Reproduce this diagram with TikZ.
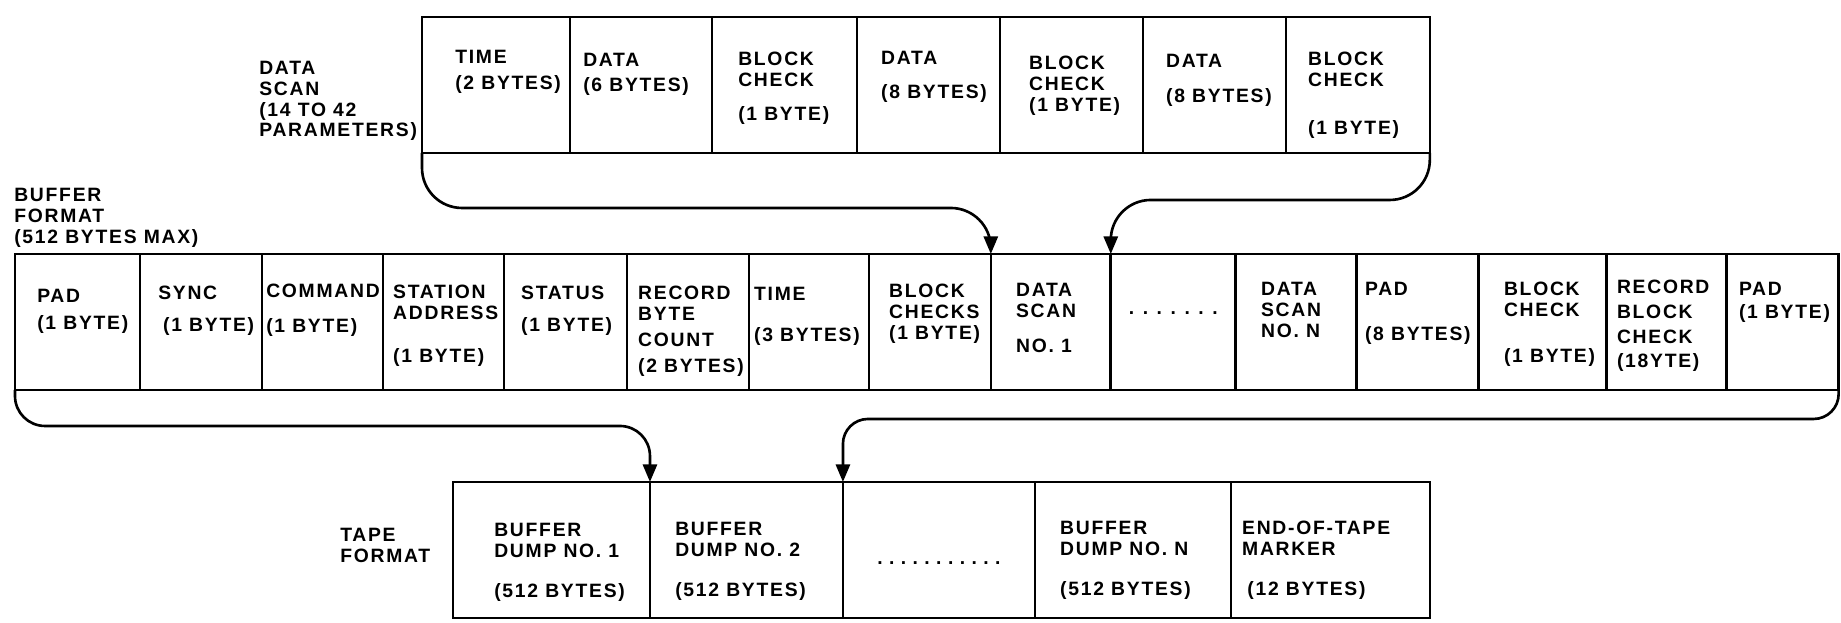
\documentclass[tikz,border=0pt]{standalone}
\usepackage{fontspec}
\setmainfont{Liberation Sans}[LetterSpace=9]
\usetikzlibrary{positioning,arrows.meta}

\begin{document}
\begin{tikzpicture}[x=0.02cm,y=-0.02cm,line width=1.5pt,
    cell/.style={draw,rectangle,inner sep=0pt,outer sep=0pt,minimum height=2.72cm},
    txt/.style={align=left,inner sep=0pt,font=\bfseries\fontsize{11}{11.8}\selectfont},
    link/.style={-{Triangle[length=10pt,width=8pt]},rounded corners=0.8cm}]
  \useasboundingbox (0,0) rectangle (1841,622);

  % data scan
  \node[cell,anchor=north west,minimum width=2.96cm] (d1) at (422,17) {};
  \node[cell,right=0pt of d1,minimum width=2.84cm] (d2) {};
  \node[cell,right=0pt of d2,minimum width=2.90cm] (d3) {};
  \node[cell,right=0pt of d3,minimum width=2.86cm] (d4) {};
  \node[cell,right=0pt of d4,minimum width=2.86cm] (d5) {};
  \node[cell,right=0pt of d5,minimum width=2.86cm] (d6) {};
  \node[cell,right=0pt of d6,minimum width=2.88cm] (d7) {};
  \node[txt,anchor=north west] (ds) at (258,60) {DATA\\SCAN\\(14 TO 42\\PARAMETERS)};
  \node[txt,below right=0.64cm and 0.64cm of d1.north west] (ld1) {TIME\\[2.9pt](2 BYTES)};
  \node[txt,below right=0.70cm and 0.24cm of d2.north west] (ld2) {DATA\\[2.4pt](6 BYTES)};
  \node[txt,below right=0.68cm and 0.50cm of d3.north west] (ld3) {BLOCK\\CHECK\\[7.5pt](1 BYTE)};
  \node[txt,below right=0.66cm and 0.46cm of d4.north west] (ld4) {DATA\\[7.5pt](8 BYTES)};
  \node[txt,below right=0.76cm and 0.56cm of d5.north west] (ld5) {BLOCK\\CHECK\\(1 BYTE)};
  \node[txt,below right=0.72cm and 0.44cm of d6.north west] (ld6) {DATA\\[8pt](8 BYTES)};
  \node[txt,below right=0.68cm and 0.42cm of d7.north west] (ld7) {BLOCK\\CHECK\\[15.4pt](1 BYTE)};

  % buffer format
  \node[cell,anchor=north west,minimum width=2.50cm] (b1) at (15,254) {};
  \node[cell,right=0pt of b1,minimum width=2.44cm] (b2) {};
  \node[cell,right=0pt of b2,minimum width=2.42cm] (b3) {};
  \node[cell,right=0pt of b3,minimum width=2.42cm] (b4) {};
  \node[cell,right=0pt of b4,minimum width=2.46cm] (b5) {};
  \node[cell,right=0pt of b5,minimum width=2.44cm] (b6) {};
  \node[cell,right=0pt of b6,minimum width=2.40cm] (b7) {};
  \node[cell,right=0pt of b7,minimum width=2.44cm] (b8) {};
  \node[cell,right=0pt of b8,minimum width=2.40cm] (b9) {};
  \node[cell,right=0pt of b9,minimum width=2.50cm] (b10) {};
  \node[cell,right=0pt of b10,minimum width=2.42cm] (b11) {};
  \node[cell,right=0pt of b11,minimum width=2.44cm] (b12) {};
  \node[cell,right=0pt of b12,minimum width=2.56cm] (b13) {};
  \node[cell,right=0pt of b13,minimum width=2.40cm] (b14) {};
  \node[cell,right=0pt of b14,minimum width=2.24cm] (b15) {};
  \node[txt,anchor=north west] (bf) at (13,187) {BUFFER\\FORMAT\\(512 BYTES MAX)};
  \node[txt,below right=0.68cm and 0.42cm of b1.north west] (lb1) {PAD\\[3.5pt](1 BYTE)};
  \node[txt,below right=0.62cm and 0.34cm of b2.north west] (lb2) {SYNC\\[6pt]\hspace*{2.8pt}(1 BYTE)};
  \node[txt,below right=0.58cm and 0.06cm of b3.north west] (lb3) {COMMAND\\[8pt](1 BYTE)};
  \node[txt,below right=0.60cm and 0.18cm of b4.north west] (lb4) {STATION\\ADDRESS\\[12.6pt](1 BYTE)};
  \node[txt,below right=0.62cm and 0.32cm of b5.north west] (lb5) {STATUS\\[6.4pt](1 BYTE)};
  \node[txt,below right=0.62cm and 0.20cm of b6.north west] (lb6) {RECORD\\BYTE\\[2.9pt]COUNT\\[2.9pt](2 BYTES)};
  \node[txt,below right=0.64cm and 0.08cm of b7.north west] (lb7) {TIME\\[11.2pt](3 BYTES)};
  \node[txt,below right=0.58cm and 0.38cm of b8.north west] (lb8) {BLOCK\\CHECKS\\(1 BYTE)};
  \node[txt,below right=0.56cm and 0.48cm of b9.north west] (lb9) {DATA\\SCAN\\[8pt]NO. 1};
  \node[txt,yshift=0.18cm] (lb10) at (b10.center) {\spaceskip=3.5pt . . . . . . .};
  \node[txt,below right=0.54cm and 0.48cm of b11.north west] (lb11) {DATA\\SCAN\\NO. N};
  \node[txt,below right=0.54cm and 0.14cm of b12.north west] (lb12) {PAD\\[13.7pt](8 BYTES)};
  \node[txt,below right=0.54cm and 0.48cm of b13.north west] (lb13) {BLOCK\\CHECK\\[14.3pt](1 BYTE)};
  \node[txt,below right=0.50cm and 0.18cm of b14.north west] (lb14) {RECORD\\[2.4pt]BLOCK\\[2.4pt]CHECK\\[1.8pt](18YTE)};
  \node[txt,below right=0.54cm and 0.22cm of b15.north west] (lb15) {PAD\\[1.2pt](1 BYTE)};

  % tape format
  \node[cell,anchor=north west,minimum width=3.94cm] (t1) at (453,482) {};
  \node[cell,right=0pt of t1,minimum width=3.86cm] (t2) {};
  \node[cell,right=0pt of t2,minimum width=3.84cm] (t3) {};
  \node[cell,right=0pt of t3,minimum width=3.92cm] (t4) {};
  \node[cell,right=0pt of t4,minimum width=3.98cm] (t5) {};
  \node[txt,anchor=north west] (tf) at (339,527) {TAPE\\FORMAT};
  \node[txt,below right=0.80cm and 0.80cm of t1.north west] (lt1) {BUFFER\\DUMP NO. 1\\[10.8pt](512 BYTES)};
  \node[txt,below right=0.78cm and 0.48cm of t2.north west] (lt2) {BUFFER\\DUMP NO. 2\\[10.8pt](512 BYTES)};
  \node[txt,yshift=-0.26cm] (lt3) at (t3.center) {\spaceskip=2.3pt . . . . . . . . . . .};
  \node[txt,below right=0.76cm and 0.48cm of t4.north west] (lt4) {BUFFER\\DUMP NO. N\\[10.8pt](512 BYTES)};
  \node[txt,below right=0.76cm and 0.20cm of t5.north west] (lt5) {END-OF-TAPE\\MARKER\\[10.8pt]\hspace*{3pt}(12 BYTES)};

  \draw[link] (d1.south west) -- ++(0,55) -| (b9.north west);
  \draw[link] (d7.south east) -- ++(0,47) -| (b9.north east);
  \draw[link,rounded corners=0.6cm] (b1.south west) -- ++(0,36) -| (t2.north west);
  \draw[link,rounded corners=0.5cm] (b15.south east) -- ++(0,29) -| (t2.north east);
\end{tikzpicture}
\end{document}
